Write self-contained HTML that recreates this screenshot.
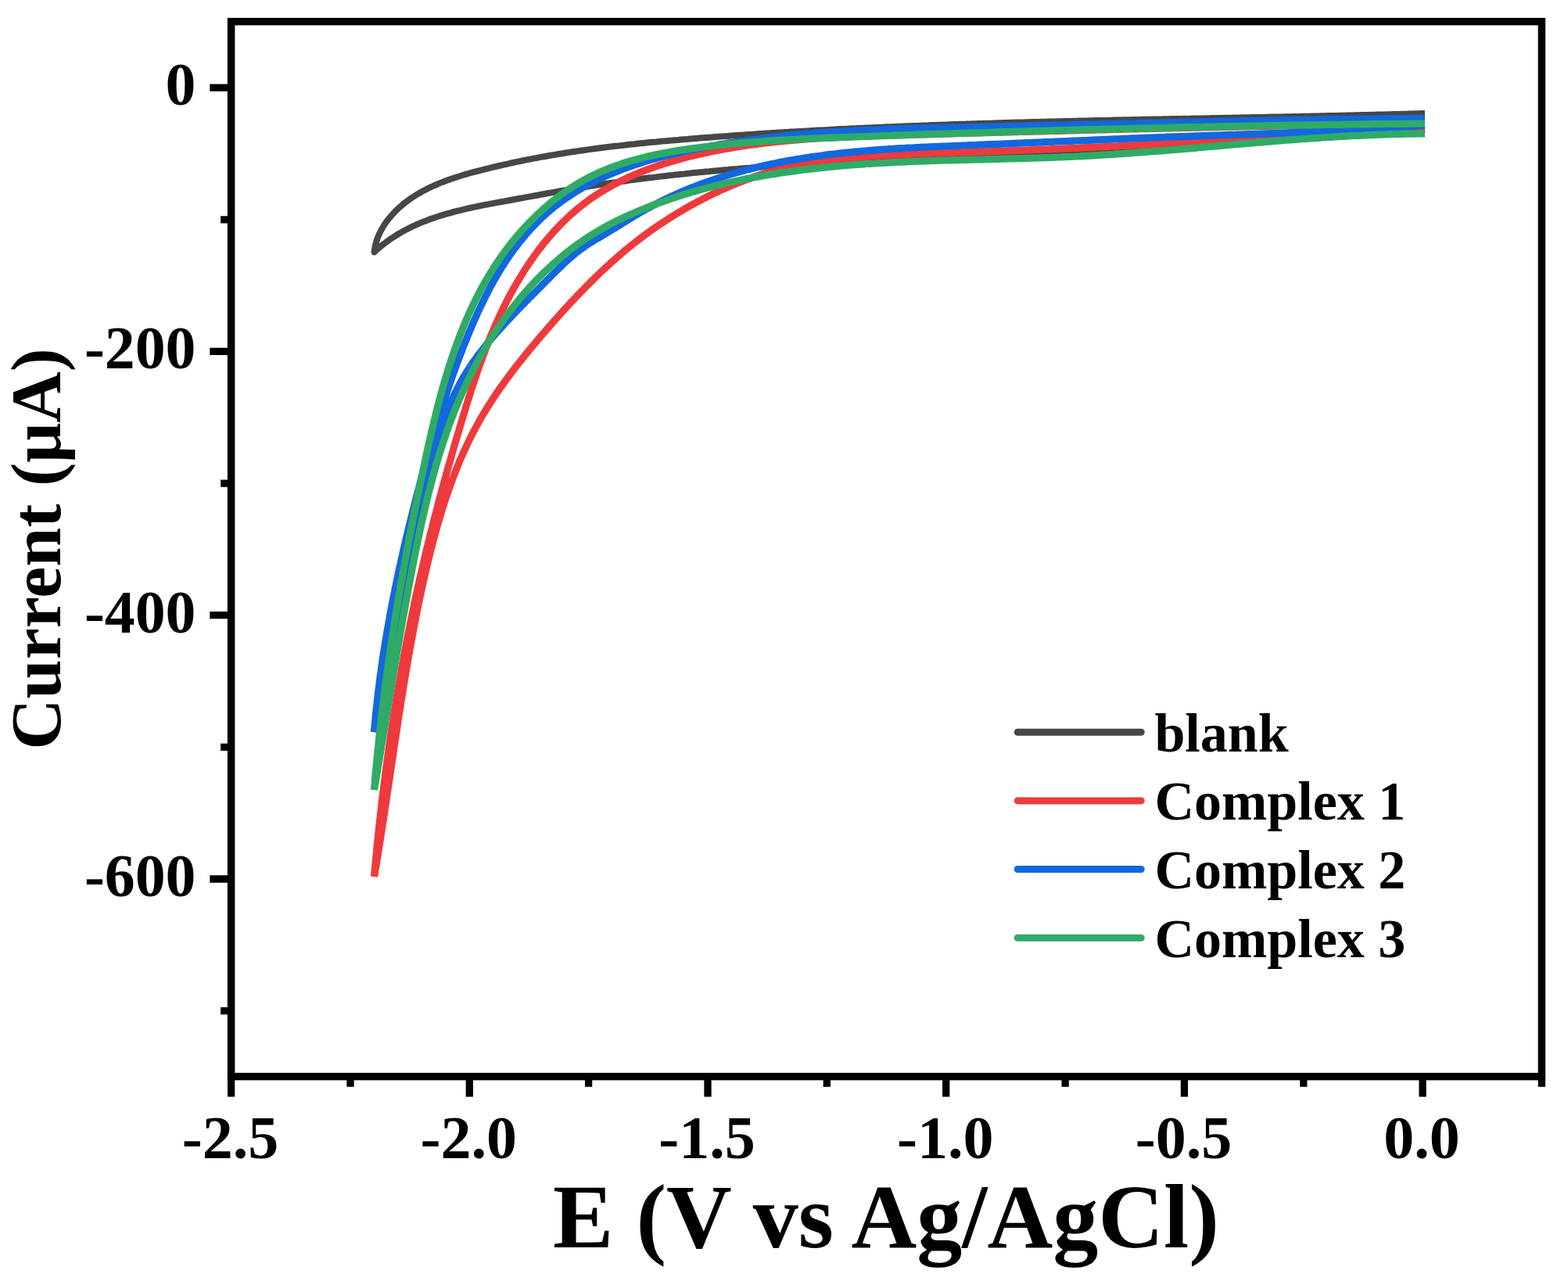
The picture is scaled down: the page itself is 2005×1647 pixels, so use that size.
<!DOCTYPE html>
<html><head><meta charset="utf-8"><title>CV plot</title>
<style>html,body{margin:0;padding:0;background:#fff;overflow:hidden}svg{display:block}</style>
</head><body>
<svg width="2005" height="1647" viewBox="0 0 2005 1647">
<rect width="2005" height="1647" fill="#fff"/>
<rect x="295.6" y="27.6" width="1675.8" height="1349.0" fill="none" stroke="#000" stroke-width="9.5"/>
<path d="M295.6 112.1H268.3 M295.6 449.4H268.3 M295.6 786.7H268.3 M295.6 1124.0H268.3 M295.6 280.8H282.1 M295.6 618.1H282.1 M295.6 955.4H282.1 M295.6 1292.7H282.1 M295.6 1376.6V1402.4 M600.3 1376.6V1402.4 M905.0 1376.6V1402.4 M1209.7 1376.6V1402.4 M1514.4 1376.6V1402.4 M1819.1 1376.6V1402.4 M448.0 1376.6V1389.8 M752.6 1376.6V1389.8 M1057.3 1376.6V1389.8 M1362.1 1376.6V1389.8 M1666.8 1376.6V1389.8 M1971.4 1376.6V1389.8" stroke="#000" stroke-width="9.3" fill="none"/>
<path d="M1822.0 145.0 L1818.0 145.1 L1814.0 145.2 L1810.0 145.3 L1806.0 145.5 L1802.0 145.6 L1798.0 145.7 L1794.0 145.8 L1790.0 145.9 L1785.9 146.0 L1781.9 146.1 L1777.9 146.2 L1773.9 146.3 L1769.9 146.4 L1765.9 146.5 L1761.9 146.6 L1757.9 146.7 L1753.9 146.8 L1749.9 146.9 L1745.9 147.0 L1741.8 147.1 L1737.8 147.2 L1733.8 147.3 L1729.8 147.4 L1725.8 147.5 L1721.8 147.6 L1717.8 147.7 L1713.8 147.8 L1709.8 147.9 L1705.7 148.0 L1701.7 148.0 L1697.7 148.1 L1693.7 148.2 L1689.7 148.3 L1685.7 148.4 L1681.7 148.5 L1677.6 148.6 L1673.6 148.7 L1669.6 148.7 L1665.6 148.8 L1661.6 148.9 L1657.6 149.0 L1653.5 149.1 L1649.5 149.2 L1645.5 149.2 L1641.5 149.3 L1637.5 149.4 L1633.5 149.5 L1629.4 149.6 L1625.4 149.6 L1621.4 149.7 L1617.4 149.8 L1613.4 149.9 L1609.3 150.0 L1605.3 150.0 L1601.3 150.1 L1597.3 150.2 L1593.3 150.3 L1589.3 150.3 L1585.2 150.4 L1581.2 150.5 L1577.2 150.6 L1573.2 150.7 L1569.2 150.7 L1565.1 150.8 L1561.1 150.9 L1557.1 151.0 L1553.1 151.0 L1549.1 151.1 L1545.0 151.2 L1541.0 151.3 L1537.0 151.4 L1533.0 151.4 L1528.9 151.5 L1524.9 151.6 L1520.9 151.7 L1516.9 151.7 L1512.9 151.8 L1508.8 151.9 L1504.8 152.0 L1500.8 152.0 L1496.8 152.1 L1492.8 152.2 L1488.7 152.3 L1484.7 152.4 L1480.7 152.4 L1476.7 152.5 L1472.6 152.6 L1468.6 152.7 L1464.6 152.8 L1460.6 152.8 L1456.6 152.9 L1452.5 153.0 L1448.5 153.1 L1444.5 153.2 L1440.5 153.3 L1436.4 153.3 L1432.4 153.4 L1428.4 153.5 L1424.4 153.6 L1420.3 153.7 L1416.3 153.8 L1412.3 153.9 L1408.3 153.9 L1404.3 154.0 L1400.2 154.1 L1396.2 154.2 L1392.2 154.3 L1388.2 154.4 L1384.1 154.5 L1380.1 154.6 L1376.1 154.7 L1372.1 154.8 L1368.1 154.9 L1364.0 155.0 L1360.0 155.1 L1356.0 155.2 L1352.0 155.3 L1347.9 155.4 L1343.9 155.5 L1339.9 155.6 L1335.9 155.7 L1331.9 155.8 L1327.8 155.9 L1323.8 156.0 L1319.8 156.1 L1315.8 156.2 L1311.7 156.3 L1307.7 156.4 L1303.7 156.5 L1299.7 156.6 L1295.7 156.7 L1291.6 156.8 L1287.6 157.0 L1283.6 157.1 L1279.6 157.2 L1275.6 157.3 L1271.5 157.4 L1267.5 157.6 L1263.5 157.7 L1259.5 157.8 L1255.5 157.9 L1251.4 158.0 L1247.4 158.2 L1243.4 158.3 L1239.4 158.4 L1235.4 158.6 L1231.3 158.7 L1227.3 158.8 L1223.3 159.0 L1219.3 159.1 L1215.3 159.2 L1211.2 159.4 L1207.2 159.5 L1203.2 159.7 L1199.2 159.8 L1195.2 160.0 L1191.2 160.1 L1187.1 160.3 L1183.1 160.4 L1179.1 160.6 L1175.1 160.7 L1171.1 160.9 L1167.1 161.0 L1163.0 161.2 L1159.0 161.3 L1155.0 161.5 L1151.0 161.7 L1147.0 161.8 L1143.0 162.0 L1139.0 162.2 L1134.9 162.3 L1130.9 162.5 L1126.9 162.7 L1122.9 162.9 L1118.9 163.0 L1114.9 163.2 L1110.9 163.4 L1106.8 163.6 L1102.8 163.8 L1098.8 164.0 L1094.8 164.2 L1090.8 164.3 L1086.8 164.5 L1082.8 164.7 L1078.8 164.9 L1074.8 165.1 L1070.8 165.3 L1066.7 165.5 L1062.7 165.7 L1058.7 166.0 L1054.7 166.2 L1050.7 166.4 L1046.7 166.6 L1042.7 166.8 L1038.7 167.0 L1034.7 167.3 L1030.7 167.5 L1026.7 167.7 L1022.7 167.9 L1018.7 168.2 L1014.7 168.4 L1010.7 168.6 L1006.6 168.9 L1002.6 169.1 L998.6 169.4 L994.6 169.6 L990.6 169.9 L986.6 170.1 L982.6 170.4 L978.6 170.6 L974.6 170.9 L970.6 171.1 L966.6 171.4 L962.6 171.7 L958.6 171.9 L954.6 172.2 L950.6 172.5 L946.6 172.7 L942.6 173.0 L938.6 173.3 L934.6 173.6 L930.6 173.9 L926.7 174.2 L922.7 174.5 L918.7 174.8 L914.7 175.1 L910.7 175.4 L906.7 175.7 L902.7 176.0 L898.7 176.3 L894.7 176.6 L890.7 176.9 L886.7 177.2 L882.7 177.5 L878.7 177.9 L874.7 178.2 L870.8 178.5 L866.8 178.9 L862.8 179.2 L858.8 179.6 L854.8 179.9 L850.8 180.3 L846.8 180.6 L842.8 181.0 L838.9 181.4 L834.9 181.7 L830.9 182.1 L826.9 182.5 L822.9 182.9 L818.9 183.3 L815.0 183.7 L811.0 184.2 L807.0 184.6 L803.0 185.0 L799.0 185.5 L795.0 185.9 L791.1 186.4 L787.1 186.8 L783.1 187.3 L779.1 187.8 L775.1 188.3 L771.2 188.8 L767.2 189.3 L763.2 189.8 L759.2 190.3 L755.2 190.9 L751.3 191.4 L747.3 192.0 L743.3 192.5 L739.3 193.1 L735.4 193.7 L731.4 194.3 L727.4 194.9 L723.4 195.5 L719.5 196.2 L715.5 196.8 L711.5 197.5 L707.5 198.1 L703.6 198.8 L699.6 199.5 L695.6 200.2 L691.6 200.9 L687.7 201.7 L683.7 202.4 L679.7 203.2 L675.7 203.9 L671.8 204.7 L667.8 205.5 L663.8 206.4 L659.9 207.2 L655.9 208.0 L651.9 208.9 L647.9 209.8 L644.0 210.6 L640.0 211.6 L636.0 212.5 L632.1 213.4 L628.1 214.4 L624.1 215.3 L620.1 216.3 L616.2 217.3 L612.2 218.3 L608.2 219.4 L604.3 220.4 L600.3 221.5 L596.4 222.6 L592.5 223.8 L588.6 225.0 L584.7 226.2 L580.8 227.5 L577.0 228.8 L573.2 230.1 L569.4 231.5 L565.6 232.9 L561.9 234.4 L558.2 236.0 L554.6 237.5 L551.0 239.2 L547.4 240.9 L543.9 242.7 L540.4 244.5 L537.0 246.5 L533.6 248.4 L530.3 250.5 L527.0 252.6 L523.8 254.8 L520.7 257.1 L517.6 259.5 L514.6 261.9 L511.6 264.5 L508.7 267.1 L505.9 269.8 L503.2 272.7 L500.6 275.6 L498.0 278.6 L495.5 281.7 L493.2 284.9 L490.9 288.3 L488.9 291.7 L486.9 295.2 L485.1 298.8 L483.5 302.5 L482.1 306.3 L480.9 310.2 L479.9 314.2 L479.1 318.3 L478.6 322.5 L481.6 319.7 L484.6 317.0 L487.7 314.4 L490.9 311.9 L494.1 309.4 L497.3 307.1 L500.6 304.8 L504.0 302.6 L507.4 300.5 L510.8 298.4 L514.2 296.4 L517.7 294.5 L521.2 292.7 L524.8 290.9 L528.4 289.2 L532.0 287.5 L535.7 285.9 L539.3 284.4 L543.0 282.9 L546.8 281.5 L550.5 280.1 L554.3 278.8 L558.1 277.5 L561.9 276.3 L565.7 275.1 L569.5 273.9 L573.3 272.8 L577.2 271.8 L581.1 270.7 L585.0 269.7 L588.9 268.8 L592.8 267.8 L596.7 266.9 L600.7 266.0 L604.6 265.2 L608.5 264.3 L612.5 263.5 L616.5 262.7 L620.4 261.9 L624.4 261.2 L628.4 260.4 L632.4 259.7 L636.3 258.9 L640.3 258.2 L644.3 257.5 L648.3 256.7 L652.3 256.0 L656.2 255.3 L660.2 254.5 L664.2 253.8 L668.1 253.1 L672.1 252.4 L676.1 251.6 L680.0 250.9 L684.0 250.2 L688.0 249.5 L691.9 248.7 L695.9 248.0 L699.8 247.3 L703.8 246.6 L707.8 245.9 L711.7 245.2 L715.7 244.5 L719.6 243.8 L723.6 243.1 L727.5 242.4 L731.5 241.8 L735.5 241.1 L739.4 240.4 L743.4 239.8 L747.4 239.1 L751.3 238.5 L755.3 237.9 L759.2 237.3 L763.2 236.6 L767.2 236.0 L771.2 235.4 L775.1 234.8 L779.1 234.3 L783.1 233.7 L787.0 233.1 L791.0 232.6 L795.0 232.0 L799.0 231.5 L802.9 230.9 L806.9 230.4 L810.9 229.9 L814.9 229.3 L818.9 228.8 L822.9 228.3 L826.8 227.8 L830.8 227.3 L834.8 226.9 L838.8 226.4 L842.8 225.9 L846.8 225.4 L850.8 225.0 L854.8 224.5 L858.7 224.1 L862.7 223.6 L866.7 223.2 L870.7 222.8 L874.7 222.4 L878.7 221.9 L882.7 221.5 L886.7 221.1 L890.7 220.7 L894.7 220.3 L898.7 219.9 L902.7 219.5 L906.7 219.2 L910.7 218.8 L914.7 218.4 L918.7 218.1 L922.7 217.7 L926.7 217.3 L930.7 217.0 L934.7 216.6 L938.7 216.3 L942.7 216.0 L946.7 215.6 L950.8 215.3 L954.8 215.0 L958.8 214.7 L962.8 214.3 L966.8 214.0 L970.8 213.7 L974.8 213.4 L978.8 213.1 L982.8 212.8 L986.8 212.5 L990.9 212.2 L994.9 212.0 L998.9 211.7 L1002.9 211.4 L1006.9 211.1 L1010.9 210.8 L1014.9 210.6 L1018.9 210.3 L1023.0 210.0 L1027.0 209.8 L1031.0 209.5 L1035.0 209.3 L1039.0 209.0 L1043.0 208.8 L1047.1 208.5 L1051.1 208.3 L1055.1 208.0 L1059.1 207.8 L1063.1 207.6 L1067.1 207.3 L1071.2 207.1 L1075.2 206.8 L1079.2 206.6 L1083.2 206.4 L1087.2 206.2 L1091.2 205.9 L1095.3 205.7 L1099.3 205.5 L1103.3 205.3 L1107.3 205.0 L1111.3 204.8 L1115.3 204.6 L1119.4 204.4 L1123.4 204.2 L1127.4 204.0 L1131.4 203.7 L1135.4 203.5 L1139.4 203.3 L1143.5 203.1 L1147.5 202.9 L1151.5 202.7 L1155.5 202.5 L1159.5 202.3 L1163.6 202.1 L1167.6 201.9 L1171.6 201.7 L1175.6 201.5 L1179.6 201.3 L1183.6 201.1 L1187.7 200.9 L1191.7 200.7 L1195.7 200.5 L1199.7 200.3 L1203.7 200.1 L1207.7 199.9 L1211.8 199.7 L1215.8 199.5 L1219.8 199.3 L1223.8 199.1 L1227.8 198.9 L1231.8 198.7 L1235.9 198.5 L1239.9 198.4 L1243.9 198.2 L1247.9 198.0 L1251.9 197.8 L1255.9 197.6 L1260.0 197.4 L1264.0 197.2 L1268.0 197.0 L1272.0 196.9 L1276.0 196.7 L1280.0 196.5 L1284.1 196.3 L1288.1 196.1 L1292.1 195.9 L1296.1 195.8 L1300.1 195.6 L1304.1 195.4 L1308.2 195.2 L1312.2 195.0 L1316.2 194.8 L1320.2 194.7 L1324.2 194.5 L1328.2 194.3 L1332.3 194.1 L1336.3 193.9 L1340.3 193.8 L1344.3 193.6 L1348.3 193.4 L1352.3 193.2 L1356.4 193.0 L1360.4 192.8 L1364.4 192.7 L1368.4 192.5 L1372.4 192.3 L1376.4 192.1 L1380.5 191.9 L1384.5 191.8 L1388.5 191.6 L1392.5 191.4 L1396.5 191.2 L1400.5 191.0 L1404.6 190.8 L1408.6 190.7 L1412.6 190.5 L1416.6 190.3 L1420.6 190.1 L1424.6 189.9 L1428.6 189.7 L1432.7 189.5 L1436.7 189.4 L1440.7 189.2 L1444.7 189.0 L1448.7 188.8 L1452.7 188.6 L1456.8 188.4 L1460.8 188.2 L1464.8 188.0 L1468.8 187.9 L1472.8 187.7 L1476.8 187.5 L1480.9 187.3 L1484.9 187.1 L1488.9 186.9 L1492.9 186.7 L1496.9 186.5 L1500.9 186.3 L1504.9 186.1 L1509.0 185.9 L1513.0 185.7 L1517.0 185.5 L1521.0 185.3 L1525.0 185.1 L1529.0 184.9 L1533.0 184.7 L1537.1 184.5 L1541.1 184.3 L1545.1 184.1 L1549.1 183.9 L1553.1 183.7 L1557.1 183.4 L1561.2 183.2 L1565.2 183.0 L1569.2 182.8 L1573.2 182.6 L1577.2 182.4 L1581.2 182.2 L1585.2 181.9 L1589.3 181.7 L1593.3 181.5 L1597.3 181.3 L1601.3 181.1 L1605.3 180.8 L1609.3 180.6 L1613.3 180.4 L1617.4 180.1 L1621.4 179.9 L1625.4 179.7 L1629.4 179.4 L1633.4 179.2 L1637.4 179.0 L1641.4 178.7 L1645.4 178.5 L1649.5 178.2 L1653.5 178.0 L1657.5 177.8 L1661.5 177.5 L1665.5 177.3 L1669.5 177.0 L1673.5 176.8 L1677.6 176.5 L1681.6 176.3 L1685.6 176.0 L1689.6 175.7 L1693.6 175.5 L1697.6 175.2 L1701.6 174.9 L1705.6 174.7 L1709.7 174.4 L1713.7 174.1 L1717.7 173.9 L1721.7 173.6 L1725.7 173.3 L1729.7 173.0 L1733.7 172.8 L1737.8 172.5 L1741.8 172.2 L1745.8 171.9 L1749.8 171.6 L1753.8 171.3 L1757.8 171.0 L1761.8 170.7 L1765.8 170.4 L1769.8 170.1 L1773.9 169.8 L1777.9 169.5 L1781.9 169.2 L1785.9 168.9 L1789.9 168.6 L1793.9 168.3 L1797.9 168.0 L1801.9 167.6 L1806.0 167.3 L1810.0 167.0 L1814.0 166.7 L1818.0 166.3 L1822.0 166.0" stroke="#474747" stroke-width="8.0" fill="none" stroke-linejoin="round" stroke-linecap="butt"/>
<path d="M1822.0 158.5 L1818.0 158.5 L1814.0 158.6 L1809.9 158.6 L1805.9 158.7 L1801.9 158.7 L1797.9 158.7 L1793.9 158.8 L1789.8 158.8 L1785.8 158.9 L1781.8 158.9 L1777.8 159.0 L1773.8 159.0 L1769.8 159.1 L1765.7 159.1 L1761.7 159.2 L1757.7 159.2 L1753.7 159.3 L1749.7 159.3 L1745.7 159.4 L1741.7 159.4 L1737.6 159.5 L1733.6 159.5 L1729.6 159.6 L1725.6 159.6 L1721.6 159.7 L1717.6 159.7 L1713.6 159.8 L1709.5 159.9 L1705.5 159.9 L1701.5 160.0 L1697.5 160.0 L1693.5 160.1 L1689.5 160.2 L1685.5 160.2 L1681.5 160.3 L1677.5 160.4 L1673.4 160.4 L1669.4 160.5 L1665.4 160.5 L1661.4 160.6 L1657.4 160.7 L1653.4 160.8 L1649.4 160.8 L1645.4 160.9 L1641.4 161.0 L1637.4 161.0 L1633.3 161.1 L1629.3 161.2 L1625.3 161.2 L1621.3 161.3 L1617.3 161.4 L1613.3 161.5 L1609.3 161.5 L1605.3 161.6 L1601.3 161.7 L1597.3 161.8 L1593.3 161.8 L1589.3 161.9 L1585.2 162.0 L1581.2 162.1 L1577.2 162.1 L1573.2 162.2 L1569.2 162.3 L1565.2 162.4 L1561.2 162.5 L1557.2 162.6 L1553.2 162.6 L1549.2 162.7 L1545.2 162.8 L1541.2 162.9 L1537.2 163.0 L1533.2 163.1 L1529.2 163.1 L1525.1 163.2 L1521.1 163.3 L1517.1 163.4 L1513.1 163.5 L1509.1 163.6 L1505.1 163.7 L1501.1 163.7 L1497.1 163.8 L1493.1 163.9 L1489.1 164.0 L1485.1 164.1 L1481.1 164.2 L1477.1 164.3 L1473.1 164.4 L1469.1 164.5 L1465.1 164.6 L1461.1 164.6 L1457.0 164.7 L1453.0 164.8 L1449.0 164.9 L1445.0 165.0 L1441.0 165.1 L1437.0 165.2 L1433.0 165.3 L1429.0 165.4 L1425.0 165.5 L1421.0 165.6 L1417.0 165.7 L1413.0 165.8 L1409.0 165.9 L1405.0 166.0 L1401.0 166.1 L1397.0 166.2 L1392.9 166.3 L1388.9 166.4 L1384.9 166.5 L1380.9 166.6 L1376.9 166.7 L1372.9 166.8 L1368.9 166.9 L1364.9 167.0 L1360.9 167.1 L1356.9 167.2 L1352.9 167.3 L1348.9 167.4 L1344.9 167.5 L1340.9 167.6 L1336.9 167.7 L1332.8 167.8 L1328.8 167.9 L1324.8 168.0 L1320.8 168.1 L1316.8 168.2 L1312.8 168.3 L1308.8 168.4 L1304.8 168.5 L1300.8 168.6 L1296.8 168.7 L1292.8 168.8 L1288.7 168.9 L1284.7 169.0 L1280.7 169.1 L1276.7 169.2 L1272.7 169.4 L1268.7 169.5 L1264.7 169.6 L1260.7 169.7 L1256.7 169.8 L1252.7 169.9 L1248.6 170.0 L1244.6 170.1 L1240.6 170.2 L1236.6 170.3 L1232.6 170.4 L1228.6 170.5 L1224.6 170.6 L1220.6 170.7 L1216.5 170.9 L1212.5 171.0 L1208.5 171.1 L1204.5 171.2 L1200.5 171.3 L1196.5 171.4 L1192.5 171.5 L1188.5 171.6 L1184.4 171.7 L1180.4 171.8 L1176.4 171.9 L1172.4 172.0 L1168.4 172.2 L1164.4 172.3 L1160.3 172.4 L1156.3 172.5 L1152.3 172.6 L1148.3 172.7 L1144.3 172.8 L1140.3 172.9 L1136.2 173.0 L1132.2 173.2 L1128.2 173.3 L1124.2 173.4 L1120.2 173.5 L1116.2 173.7 L1112.1 173.8 L1108.1 173.9 L1104.1 174.1 L1100.1 174.2 L1096.1 174.4 L1092.1 174.5 L1088.0 174.7 L1084.0 174.9 L1080.0 175.0 L1076.0 175.2 L1072.0 175.4 L1068.0 175.6 L1064.0 175.8 L1059.9 176.0 L1055.9 176.3 L1051.9 176.5 L1047.9 176.7 L1043.9 177.0 L1039.9 177.3 L1035.9 177.5 L1031.9 177.8 L1027.9 178.1 L1023.9 178.4 L1019.9 178.8 L1015.9 179.1 L1011.9 179.4 L1007.9 179.8 L1003.9 180.2 L999.9 180.6 L995.9 181.0 L991.9 181.4 L987.9 181.8 L983.9 182.3 L980.0 182.7 L976.0 183.2 L972.0 183.7 L968.0 184.2 L964.0 184.7 L960.0 185.3 L956.1 185.8 L952.1 186.4 L948.1 187.0 L944.2 187.6 L940.2 188.3 L936.2 188.9 L932.3 189.6 L928.3 190.3 L924.3 191.0 L920.4 191.8 L916.4 192.5 L912.5 193.3 L908.5 194.1 L904.6 195.0 L900.6 195.8 L896.7 196.7 L892.7 197.6 L888.8 198.5 L884.9 199.4 L880.9 200.4 L877.0 201.4 L873.1 202.4 L869.2 203.5 L865.3 204.6 L861.4 205.7 L857.5 206.8 L853.7 208.0 L849.8 209.2 L846.0 210.4 L842.2 211.7 L838.4 213.0 L834.6 214.3 L830.8 215.7 L827.0 217.1 L823.3 218.5 L819.5 220.0 L815.8 221.5 L812.1 223.0 L808.5 224.6 L804.8 226.2 L801.2 227.9 L797.6 229.6 L794.0 231.3 L790.5 233.1 L787.0 234.9 L783.5 236.8 L780.0 238.7 L776.5 240.7 L773.1 242.7 L769.7 244.7 L766.4 246.8 L763.1 248.9 L759.8 251.1 L756.5 253.3 L753.3 255.6 L750.1 257.9 L747.0 260.3 L743.8 262.7 L740.8 265.2 L737.7 267.7 L734.7 270.3 L731.7 272.9 L728.8 275.5 L725.9 278.2 L723.0 281.0 L720.1 283.7 L717.3 286.5 L714.5 289.4 L711.8 292.3 L709.1 295.2 L706.4 298.2 L703.8 301.2 L701.2 304.2 L698.6 307.3 L696.0 310.4 L693.5 313.5 L691.1 316.7 L688.6 319.9 L686.2 323.1 L683.8 326.4 L681.5 329.7 L679.1 333.0 L676.9 336.3 L674.6 339.7 L672.4 343.0 L670.2 346.4 L668.0 349.9 L665.9 353.3 L663.8 356.8 L661.7 360.3 L659.7 363.8 L657.6 367.3 L655.7 370.8 L653.7 374.4 L651.8 378.0 L649.9 381.5 L648.0 385.1 L646.2 388.7 L644.4 392.4 L642.6 396.0 L640.9 399.6 L639.1 403.3 L637.5 406.9 L635.8 410.6 L634.1 414.3 L632.5 418.0 L630.9 421.7 L629.4 425.4 L627.8 429.1 L626.3 432.8 L624.8 436.5 L623.3 440.3 L621.8 444.0 L620.4 447.8 L619.0 451.5 L617.6 455.3 L616.2 459.1 L614.8 462.8 L613.5 466.6 L612.1 470.4 L610.8 474.2 L609.5 478.0 L608.2 481.8 L606.9 485.6 L605.7 489.4 L604.4 493.2 L603.2 497.0 L601.9 500.9 L600.7 504.7 L599.5 508.5 L598.3 512.4 L597.1 516.2 L595.9 520.0 L594.8 523.9 L593.6 527.7 L592.4 531.5 L591.3 535.4 L590.1 539.2 L589.0 543.1 L587.8 546.9 L586.7 550.8 L585.5 554.6 L584.4 558.5 L583.3 562.3 L582.1 566.1 L581.0 570.0 L579.9 573.8 L578.8 577.7 L577.7 581.5 L576.6 585.4 L575.5 589.3 L574.4 593.1 L573.3 597.0 L572.2 600.8 L571.1 604.7 L570.1 608.5 L569.0 612.4 L567.9 616.3 L566.9 620.1 L565.8 624.0 L564.8 627.8 L563.7 631.7 L562.7 635.6 L561.6 639.4 L560.6 643.3 L559.6 647.2 L558.6 651.1 L557.6 654.9 L556.5 658.8 L555.5 662.7 L554.5 666.6 L553.6 670.4 L552.6 674.3 L551.6 678.2 L550.6 682.1 L549.6 686.0 L548.7 689.8 L547.7 693.7 L546.8 697.6 L545.8 701.5 L544.9 705.4 L544.0 709.3 L543.0 713.2 L542.1 717.1 L541.2 721.0 L540.3 724.9 L539.4 728.8 L538.5 732.7 L537.6 736.6 L536.7 740.5 L535.8 744.4 L535.0 748.3 L534.1 752.3 L533.2 756.2 L532.4 760.1 L531.5 764.0 L530.7 767.9 L529.8 771.8 L529.0 775.8 L528.2 779.7 L527.4 783.6 L526.6 787.5 L525.8 791.5 L525.0 795.4 L524.2 799.3 L523.4 803.3 L522.6 807.2 L521.8 811.1 L521.0 815.1 L520.3 819.0 L519.5 823.0 L518.8 826.9 L518.0 830.8 L517.3 834.8 L516.5 838.7 L515.8 842.7 L515.1 846.6 L514.4 850.6 L513.7 854.5 L513.0 858.5 L512.3 862.4 L511.6 866.4 L510.9 870.3 L510.2 874.3 L509.5 878.3 L508.8 882.2 L508.2 886.2 L507.5 890.1 L506.9 894.1 L506.2 898.1 L505.6 902.0 L504.9 906.0 L504.3 910.0 L503.7 913.9 L503.0 917.9 L502.4 921.9 L501.8 925.8 L501.2 929.8 L500.6 933.8 L500.0 937.7 L499.4 941.7 L498.9 945.7 L498.3 949.7 L497.7 953.6 L497.1 957.6 L496.6 961.6 L496.0 965.6 L495.5 969.5 L494.9 973.5 L494.4 977.5 L493.9 981.5 L493.3 985.5 L492.8 989.4 L492.3 993.4 L491.8 997.4 L491.3 1001.4 L490.8 1005.4 L490.3 1009.3 L489.8 1013.3 L489.3 1017.3 L488.8 1021.3 L488.3 1025.3 L487.9 1029.3 L487.4 1033.3 L487.0 1037.2 L486.5 1041.2 L486.1 1045.2 L485.6 1049.2 L485.2 1053.2 L484.7 1057.2 L484.3 1061.2 L483.9 1065.1 L483.5 1069.1 L483.1 1073.1 L482.6 1077.1 L482.2 1081.1 L481.8 1085.1 L481.5 1089.1 L481.1 1093.1 L480.7 1097.1 L480.3 1101.1 L479.9 1105.0 L479.6 1109.0 L479.2 1113.0 L478.9 1117.0 L478.5 1121.0 L479.2 1117.0 L479.8 1113.1 L480.5 1109.1 L481.2 1105.2 L481.8 1101.2 L482.5 1097.3 L483.1 1093.3 L483.7 1089.4 L484.4 1085.4 L485.0 1081.5 L485.6 1077.5 L486.3 1073.5 L486.9 1069.6 L487.5 1065.6 L488.1 1061.7 L488.7 1057.7 L489.3 1053.7 L490.0 1049.8 L490.6 1045.8 L491.2 1041.8 L491.8 1037.9 L492.4 1033.9 L493.0 1029.9 L493.6 1026.0 L494.1 1022.0 L494.7 1018.0 L495.3 1014.1 L495.9 1010.1 L496.5 1006.1 L497.1 1002.2 L497.7 998.2 L498.3 994.2 L498.9 990.3 L499.4 986.3 L500.0 982.3 L500.6 978.4 L501.2 974.4 L501.8 970.4 L502.4 966.5 L503.0 962.5 L503.5 958.5 L504.1 954.6 L504.7 950.6 L505.3 946.6 L505.9 942.7 L506.5 938.7 L507.1 934.7 L507.7 930.8 L508.3 926.8 L508.9 922.8 L509.5 918.9 L510.1 914.9 L510.7 911.0 L511.4 907.0 L512.0 903.0 L512.6 899.1 L513.2 895.1 L513.9 891.1 L514.5 887.2 L515.1 883.2 L515.8 879.3 L516.4 875.3 L517.1 871.3 L517.7 867.4 L518.4 863.4 L519.0 859.5 L519.7 855.5 L520.4 851.6 L521.0 847.6 L521.7 843.7 L522.4 839.7 L523.1 835.8 L523.8 831.8 L524.5 827.9 L525.2 823.9 L525.9 820.0 L526.7 816.0 L527.4 812.1 L528.1 808.2 L528.9 804.2 L529.6 800.3 L530.4 796.3 L531.2 792.4 L531.9 788.5 L532.7 784.5 L533.5 780.6 L534.3 776.7 L535.1 772.7 L535.9 768.8 L536.7 764.9 L537.6 761.0 L538.4 757.0 L539.3 753.1 L540.1 749.2 L541.0 745.3 L541.9 741.3 L542.8 737.4 L543.6 733.5 L544.6 729.6 L545.5 725.7 L546.4 721.8 L547.3 717.9 L548.3 714.0 L549.2 710.1 L550.2 706.2 L551.2 702.3 L552.2 698.4 L553.2 694.5 L554.2 690.6 L555.2 686.7 L556.3 682.8 L557.4 679.0 L558.4 675.1 L559.5 671.2 L560.6 667.4 L561.8 663.5 L562.9 659.7 L564.1 655.8 L565.2 652.0 L566.4 648.2 L567.7 644.4 L568.9 640.5 L570.1 636.7 L571.4 632.9 L572.7 629.2 L574.0 625.4 L575.4 621.6 L576.7 617.9 L578.1 614.1 L579.5 610.4 L580.9 606.6 L582.4 602.9 L583.9 599.2 L585.3 595.5 L586.9 591.8 L588.4 588.1 L590.0 584.5 L591.6 580.8 L593.2 577.2 L594.9 573.6 L596.6 570.0 L598.3 566.4 L600.0 562.8 L601.8 559.2 L603.6 555.6 L605.4 552.1 L607.3 548.6 L609.2 545.1 L611.1 541.6 L613.0 538.1 L615.0 534.6 L617.0 531.2 L619.1 527.8 L621.2 524.3 L623.3 520.9 L625.4 517.5 L627.6 514.2 L629.7 510.8 L631.9 507.5 L634.2 504.1 L636.4 500.8 L638.7 497.5 L641.0 494.2 L643.4 490.9 L645.7 487.7 L648.1 484.4 L650.5 481.2 L652.9 478.0 L655.3 474.7 L657.8 471.5 L660.2 468.3 L662.7 465.2 L665.2 462.0 L667.7 458.8 L670.3 455.7 L672.8 452.5 L675.3 449.4 L677.9 446.3 L680.5 443.2 L683.1 440.1 L685.7 437.0 L688.3 433.9 L690.9 430.8 L693.5 427.8 L696.2 424.7 L698.8 421.6 L701.5 418.6 L704.1 415.6 L706.8 412.5 L709.4 409.5 L712.1 406.5 L714.8 403.5 L717.5 400.5 L720.1 397.5 L722.8 394.6 L725.6 391.6 L728.3 388.7 L731.0 385.7 L733.7 382.8 L736.5 379.9 L739.2 377.0 L742.0 374.1 L744.8 371.2 L747.6 368.4 L750.4 365.5 L753.2 362.7 L756.0 359.9 L758.9 357.1 L761.7 354.3 L764.6 351.5 L767.5 348.7 L770.4 346.0 L773.3 343.3 L776.2 340.6 L779.2 337.9 L782.1 335.2 L785.1 332.5 L788.1 329.9 L791.1 327.3 L794.1 324.7 L797.2 322.1 L800.2 319.5 L803.3 317.0 L806.4 314.5 L809.5 312.0 L812.7 309.5 L815.8 307.1 L819.0 304.6 L822.2 302.2 L825.5 299.8 L828.7 297.5 L832.0 295.1 L835.2 292.8 L838.6 290.5 L841.9 288.2 L845.2 286.0 L848.6 283.8 L852.0 281.6 L855.4 279.4 L858.8 277.2 L862.2 275.1 L865.6 273.0 L869.1 270.9 L872.6 268.9 L876.1 266.8 L879.6 264.8 L883.1 262.8 L886.6 260.9 L890.2 259.0 L893.8 257.1 L897.3 255.2 L900.9 253.4 L904.5 251.5 L908.1 249.7 L911.8 248.0 L915.4 246.2 L919.1 244.5 L922.7 242.9 L926.4 241.2 L930.1 239.6 L933.8 238.0 L937.5 236.4 L941.2 234.9 L944.9 233.4 L948.7 232.0 L952.4 230.5 L956.2 229.1 L960.0 227.8 L963.7 226.4 L967.5 225.1 L971.3 223.9 L975.1 222.7 L979.0 221.5 L982.8 220.3 L986.6 219.2 L990.5 218.1 L994.3 217.1 L998.2 216.1 L1002.1 215.1 L1006.0 214.2 L1009.8 213.3 L1013.7 212.5 L1017.6 211.6 L1021.6 210.9 L1025.5 210.1 L1029.4 209.4 L1033.3 208.7 L1037.3 208.1 L1041.2 207.4 L1045.2 206.8 L1049.1 206.3 L1053.1 205.7 L1057.1 205.2 L1061.0 204.7 L1065.0 204.2 L1069.0 203.8 L1073.0 203.3 L1076.9 202.9 L1080.9 202.5 L1084.9 202.2 L1088.9 201.8 L1092.9 201.4 L1096.9 201.1 L1100.9 200.8 L1104.9 200.5 L1108.9 200.2 L1112.9 199.9 L1116.9 199.6 L1120.9 199.4 L1124.9 199.1 L1128.9 198.9 L1132.9 198.6 L1136.9 198.4 L1141.0 198.2 L1145.0 198.0 L1149.0 197.8 L1153.0 197.6 L1157.0 197.4 L1161.0 197.3 L1165.0 197.1 L1169.0 196.9 L1173.1 196.8 L1177.1 196.6 L1181.1 196.5 L1185.1 196.3 L1189.1 196.2 L1193.1 196.0 L1197.2 195.9 L1201.2 195.8 L1205.2 195.7 L1209.2 195.5 L1213.2 195.4 L1217.3 195.3 L1221.3 195.2 L1225.3 195.0 L1229.3 194.9 L1233.3 194.8 L1237.3 194.7 L1241.4 194.6 L1245.4 194.4 L1249.4 194.3 L1253.4 194.2 L1257.4 194.0 L1261.4 193.9 L1265.4 193.8 L1269.5 193.6 L1273.5 193.5 L1277.5 193.4 L1281.5 193.2 L1285.5 193.1 L1289.5 192.9 L1293.5 192.8 L1297.5 192.6 L1301.5 192.5 L1305.5 192.3 L1309.6 192.2 L1313.6 192.0 L1317.6 191.8 L1321.6 191.7 L1325.6 191.5 L1329.6 191.4 L1333.6 191.2 L1337.6 191.0 L1341.6 190.9 L1345.6 190.7 L1349.6 190.5 L1353.6 190.3 L1357.6 190.2 L1361.6 190.0 L1365.6 189.8 L1369.6 189.6 L1373.6 189.5 L1377.6 189.3 L1381.6 189.1 L1385.6 188.9 L1389.6 188.7 L1393.7 188.6 L1397.7 188.4 L1401.7 188.2 L1405.7 188.0 L1409.7 187.8 L1413.7 187.6 L1417.7 187.4 L1421.7 187.2 L1425.7 187.1 L1429.7 186.9 L1433.7 186.7 L1437.7 186.5 L1441.7 186.3 L1445.7 186.1 L1449.7 185.9 L1453.7 185.7 L1457.7 185.5 L1461.7 185.3 L1465.7 185.1 L1469.7 184.9 L1473.7 184.7 L1477.7 184.6 L1481.7 184.4 L1485.7 184.2 L1489.7 184.0 L1493.7 183.8 L1497.7 183.6 L1501.7 183.4 L1505.7 183.2 L1509.7 183.0 L1513.7 182.8 L1517.7 182.6 L1521.7 182.4 L1525.7 182.2 L1529.7 182.0 L1533.7 181.8 L1537.7 181.6 L1541.7 181.4 L1545.8 181.3 L1549.8 181.1 L1553.8 180.9 L1557.8 180.7 L1561.8 180.5 L1565.8 180.3 L1569.8 180.1 L1573.8 179.9 L1577.8 179.7 L1581.8 179.5 L1585.8 179.3 L1589.8 179.1 L1593.8 178.9 L1597.8 178.7 L1601.8 178.5 L1605.8 178.3 L1609.8 178.1 L1613.8 177.9 L1617.9 177.7 L1621.9 177.5 L1625.9 177.3 L1629.9 177.1 L1633.9 176.8 L1637.9 176.6 L1641.9 176.4 L1645.9 176.2 L1649.9 176.0 L1653.9 175.8 L1657.9 175.6 L1661.9 175.4 L1665.9 175.2 L1669.9 174.9 L1673.9 174.7 L1677.9 174.5 L1681.9 174.3 L1685.9 174.1 L1690.0 173.8 L1694.0 173.6 L1698.0 173.4 L1702.0 173.2 L1706.0 172.9 L1710.0 172.7 L1714.0 172.5 L1718.0 172.2 L1722.0 172.0 L1726.0 171.8 L1730.0 171.5 L1734.0 171.3 L1738.0 171.0 L1742.0 170.8 L1746.0 170.5 L1750.0 170.3 L1754.0 170.0 L1758.0 169.8 L1762.0 169.5 L1766.0 169.3 L1770.0 169.0 L1774.0 168.8 L1778.0 168.5 L1782.0 168.3 L1786.0 168.0 L1790.0 167.7 L1794.0 167.4 L1798.0 167.2 L1802.0 166.9 L1806.0 166.6 L1810.0 166.3 L1814.0 166.1 L1818.0 165.8 L1822.0 165.5" stroke="#ee3a3d" stroke-width="9.2" fill="none" stroke-linejoin="bevel" stroke-linecap="butt"/>
<path d="M1822.0 151.4 L1818.0 151.4 L1814.0 151.4 L1810.0 151.5 L1806.0 151.5 L1802.0 151.5 L1798.0 151.6 L1794.0 151.6 L1790.0 151.6 L1785.9 151.7 L1781.9 151.7 L1777.9 151.7 L1773.9 151.8 L1769.9 151.8 L1765.9 151.8 L1761.9 151.9 L1757.9 151.9 L1753.9 152.0 L1749.9 152.0 L1745.9 152.1 L1741.9 152.1 L1737.8 152.2 L1733.8 152.2 L1729.8 152.3 L1725.8 152.3 L1721.8 152.4 L1717.8 152.4 L1713.8 152.5 L1709.8 152.5 L1705.7 152.6 L1701.7 152.6 L1697.7 152.7 L1693.7 152.8 L1689.7 152.8 L1685.7 152.9 L1681.7 153.0 L1677.7 153.0 L1673.6 153.1 L1669.6 153.1 L1665.6 153.2 L1661.6 153.3 L1657.6 153.4 L1653.6 153.4 L1649.5 153.5 L1645.5 153.6 L1641.5 153.6 L1637.5 153.7 L1633.5 153.8 L1629.5 153.9 L1625.5 153.9 L1621.4 154.0 L1617.4 154.1 L1613.4 154.2 L1609.4 154.2 L1605.4 154.3 L1601.4 154.4 L1597.3 154.5 L1593.3 154.6 L1589.3 154.6 L1585.3 154.7 L1581.3 154.8 L1577.2 154.9 L1573.2 155.0 L1569.2 155.1 L1565.2 155.1 L1561.2 155.2 L1557.2 155.3 L1553.1 155.4 L1549.1 155.5 L1545.1 155.6 L1541.1 155.7 L1537.1 155.7 L1533.1 155.8 L1529.0 155.9 L1525.0 156.0 L1521.0 156.1 L1517.0 156.2 L1513.0 156.3 L1508.9 156.4 L1504.9 156.5 L1500.9 156.6 L1496.9 156.6 L1492.9 156.7 L1488.9 156.8 L1484.8 156.9 L1480.8 157.0 L1476.8 157.1 L1472.8 157.2 L1468.8 157.3 L1464.7 157.4 L1460.7 157.5 L1456.7 157.6 L1452.7 157.7 L1448.7 157.8 L1444.7 157.9 L1440.6 158.0 L1436.6 158.1 L1432.6 158.2 L1428.6 158.2 L1424.6 158.3 L1420.6 158.4 L1416.5 158.5 L1412.5 158.6 L1408.5 158.7 L1404.5 158.8 L1400.5 158.9 L1396.5 159.0 L1392.4 159.1 L1388.4 159.2 L1384.4 159.3 L1380.4 159.4 L1376.4 159.5 L1372.4 159.6 L1368.3 159.7 L1364.3 159.8 L1360.3 159.9 L1356.3 160.0 L1352.3 160.1 L1348.3 160.1 L1344.3 160.2 L1340.2 160.3 L1336.2 160.4 L1332.2 160.5 L1328.2 160.6 L1324.2 160.7 L1320.2 160.8 L1316.2 160.9 L1312.2 161.0 L1308.1 161.1 L1304.1 161.2 L1300.1 161.2 L1296.1 161.3 L1292.1 161.4 L1288.1 161.5 L1284.1 161.6 L1280.1 161.7 L1276.1 161.8 L1272.0 161.9 L1268.0 162.0 L1264.0 162.0 L1260.0 162.1 L1256.0 162.2 L1252.0 162.3 L1248.0 162.4 L1244.0 162.5 L1240.0 162.5 L1236.0 162.6 L1232.0 162.7 L1228.0 162.8 L1224.0 162.9 L1219.9 163.0 L1215.9 163.0 L1211.9 163.1 L1207.9 163.2 L1203.9 163.3 L1199.9 163.4 L1195.9 163.5 L1191.9 163.6 L1187.9 163.7 L1183.9 163.8 L1179.9 163.9 L1175.9 164.0 L1171.9 164.1 L1167.9 164.2 L1163.9 164.3 L1159.9 164.4 L1155.9 164.6 L1151.9 164.7 L1147.9 164.8 L1143.9 164.9 L1139.9 165.1 L1135.9 165.2 L1131.9 165.4 L1127.9 165.5 L1123.9 165.7 L1119.9 165.8 L1115.9 166.0 L1111.9 166.2 L1107.9 166.4 L1103.9 166.5 L1099.9 166.7 L1095.9 166.9 L1091.9 167.1 L1087.9 167.4 L1083.9 167.6 L1079.9 167.8 L1075.9 168.0 L1072.0 168.3 L1068.0 168.5 L1064.0 168.8 L1060.0 169.0 L1056.0 169.3 L1052.0 169.6 L1048.0 169.9 L1044.0 170.2 L1040.0 170.5 L1036.0 170.8 L1032.0 171.1 L1028.0 171.5 L1024.0 171.8 L1020.0 172.2 L1016.1 172.5 L1012.1 172.9 L1008.1 173.3 L1004.1 173.7 L1000.1 174.1 L996.1 174.5 L992.1 175.0 L988.1 175.4 L984.1 175.9 L980.1 176.3 L976.2 176.8 L972.2 177.3 L968.2 177.8 L964.2 178.3 L960.2 178.9 L956.2 179.4 L952.2 180.0 L948.2 180.5 L944.3 181.1 L940.3 181.7 L936.3 182.3 L932.3 182.9 L928.3 183.6 L924.3 184.2 L920.3 184.9 L916.4 185.6 L912.4 186.3 L908.4 187.0 L904.4 187.7 L900.4 188.5 L896.4 189.2 L892.5 190.0 L888.5 190.8 L884.5 191.6 L880.5 192.4 L876.5 193.3 L872.6 194.2 L868.6 195.1 L864.6 196.0 L860.7 196.9 L856.7 197.9 L852.8 198.8 L848.9 199.8 L845.0 200.9 L841.0 201.9 L837.1 203.0 L833.2 204.1 L829.4 205.2 L825.5 206.4 L821.6 207.6 L817.8 208.8 L814.0 210.0 L810.1 211.3 L806.3 212.6 L802.6 214.0 L798.8 215.3 L795.0 216.7 L791.3 218.2 L787.6 219.7 L783.9 221.2 L780.2 222.7 L776.6 224.3 L772.9 225.9 L769.3 227.6 L765.7 229.3 L762.1 231.0 L758.6 232.8 L755.1 234.6 L751.6 236.4 L748.1 238.3 L744.7 240.3 L741.2 242.3 L737.9 244.3 L734.5 246.4 L731.2 248.5 L727.9 250.7 L724.6 252.9 L721.3 255.1 L718.1 257.4 L715.0 259.8 L711.8 262.2 L708.7 264.6 L705.6 267.1 L702.6 269.7 L699.6 272.3 L696.6 275.0 L693.6 277.7 L690.7 280.4 L687.9 283.2 L685.1 286.1 L682.3 289.0 L679.5 291.9 L676.8 294.9 L674.1 297.9 L671.5 301.0 L668.9 304.1 L666.3 307.2 L663.8 310.4 L661.3 313.6 L658.8 316.8 L656.4 320.0 L654.1 323.3 L651.7 326.6 L649.4 330.0 L647.2 333.3 L645.0 336.7 L642.8 340.1 L640.6 343.5 L638.5 346.9 L636.5 350.4 L634.4 353.9 L632.4 357.4 L630.5 360.9 L628.5 364.4 L626.6 367.9 L624.7 371.5 L622.9 375.1 L621.0 378.7 L619.3 382.3 L617.5 385.9 L615.7 389.5 L614.0 393.1 L612.3 396.8 L610.6 400.4 L609.0 404.1 L607.3 407.8 L605.7 411.4 L604.1 415.1 L602.6 418.8 L601.0 422.5 L599.4 426.2 L597.9 429.9 L596.4 433.7 L594.9 437.4 L593.4 441.1 L591.9 444.8 L590.5 448.6 L589.1 452.3 L587.6 456.1 L586.2 459.8 L584.8 463.6 L583.4 467.3 L582.1 471.1 L580.7 474.9 L579.4 478.6 L578.0 482.4 L576.7 486.2 L575.4 490.0 L574.1 493.8 L572.8 497.6 L571.6 501.4 L570.3 505.2 L569.1 509.0 L567.8 512.8 L566.6 516.6 L565.4 520.4 L564.2 524.2 L563.0 528.1 L561.8 531.9 L560.6 535.7 L559.4 539.6 L558.3 543.4 L557.1 547.2 L556.0 551.1 L554.8 554.9 L553.7 558.8 L552.6 562.6 L551.5 566.5 L550.3 570.3 L549.2 574.2 L548.2 578.0 L547.1 581.9 L546.0 585.8 L544.9 589.6 L543.8 593.5 L542.8 597.4 L541.7 601.2 L540.7 605.1 L539.6 609.0 L538.6 612.9 L537.5 616.7 L536.5 620.6 L535.5 624.5 L534.4 628.4 L533.4 632.2 L532.4 636.1 L531.4 640.0 L530.4 643.9 L529.4 647.8 L528.4 651.7 L527.5 655.6 L526.5 659.5 L525.5 663.4 L524.5 667.3 L523.6 671.2 L522.6 675.1 L521.7 679.0 L520.8 682.9 L519.8 686.8 L518.9 690.7 L518.0 694.6 L517.1 698.5 L516.2 702.4 L515.3 706.3 L514.4 710.2 L513.5 714.1 L512.7 718.1 L511.8 722.0 L510.9 725.9 L510.1 729.8 L509.2 733.7 L508.4 737.7 L507.6 741.6 L506.8 745.5 L506.0 749.5 L505.1 753.4 L504.4 757.3 L503.6 761.3 L502.8 765.2 L502.0 769.1 L501.3 773.1 L500.5 777.0 L499.8 781.0 L499.0 784.9 L498.3 788.9 L497.6 792.8 L496.9 796.7 L496.2 800.7 L495.5 804.7 L494.8 808.6 L494.2 812.6 L493.5 816.5 L492.8 820.5 L492.2 824.4 L491.6 828.4 L490.9 832.4 L490.3 836.3 L489.7 840.3 L489.1 844.3 L488.6 848.2 L488.0 852.2 L487.4 856.2 L486.9 860.2 L486.3 864.1 L485.8 868.1 L485.3 872.1 L484.8 876.1 L484.3 880.1 L483.8 884.0 L483.3 888.0 L482.9 892.0 L482.4 896.0 L482.0 900.0 L481.5 904.0 L481.1 908.0 L480.7 912.0 L480.3 916.0 L479.9 920.0 L479.5 924.0 L479.2 928.0 L478.8 932.0 L478.5 936.0 L479.3 932.1 L480.1 928.1 L480.9 924.2 L481.8 920.2 L482.6 916.3 L483.4 912.4 L484.2 908.4 L485.0 904.5 L485.8 900.6 L486.6 896.6 L487.3 892.7 L488.1 888.7 L488.9 884.8 L489.7 880.9 L490.5 876.9 L491.3 873.0 L492.0 869.1 L492.8 865.1 L493.6 861.2 L494.4 857.3 L495.2 853.3 L495.9 849.4 L496.7 845.5 L497.5 841.5 L498.2 837.6 L499.0 833.6 L499.8 829.7 L500.6 825.8 L501.3 821.8 L502.1 817.9 L502.9 814.0 L503.7 810.0 L504.4 806.1 L505.2 802.2 L506.0 798.3 L506.7 794.3 L507.5 790.4 L508.3 786.5 L509.1 782.5 L509.9 778.6 L510.7 774.7 L511.4 770.7 L512.2 766.8 L513.0 762.9 L513.8 759.0 L514.6 755.0 L515.4 751.1 L516.2 747.2 L517.0 743.2 L517.8 739.3 L518.6 735.4 L519.4 731.5 L520.2 727.5 L521.1 723.6 L521.9 719.7 L522.7 715.8 L523.5 711.8 L524.4 707.9 L525.2 704.0 L526.0 700.1 L526.9 696.2 L527.7 692.2 L528.6 688.3 L529.4 684.4 L530.3 680.5 L531.2 676.6 L532.1 672.6 L532.9 668.7 L533.8 664.8 L534.7 660.9 L535.6 657.0 L536.5 653.1 L537.4 649.1 L538.3 645.2 L539.3 641.3 L540.2 637.4 L541.1 633.5 L542.1 629.6 L543.0 625.7 L544.0 621.8 L544.9 617.9 L545.9 613.9 L546.9 610.0 L547.9 606.1 L548.8 602.2 L549.8 598.3 L550.8 594.4 L551.9 590.5 L552.9 586.6 L553.9 582.7 L555.0 578.8 L556.1 574.9 L557.2 571.1 L558.3 567.2 L559.4 563.3 L560.6 559.5 L561.7 555.6 L562.9 551.8 L564.2 548.0 L565.4 544.1 L566.7 540.3 L568.0 536.6 L569.4 532.8 L570.8 529.0 L572.2 525.3 L573.7 521.6 L575.2 517.9 L576.7 514.2 L578.3 510.6 L580.0 506.9 L581.6 503.3 L583.4 499.7 L585.1 496.1 L587.0 492.6 L588.8 489.1 L590.8 485.6 L592.8 482.1 L594.8 478.7 L596.9 475.3 L599.1 471.9 L601.3 468.5 L603.5 465.2 L605.8 461.9 L608.2 458.6 L610.5 455.4 L613.0 452.2 L615.4 449.0 L617.9 445.8 L620.5 442.6 L623.0 439.5 L625.6 436.4 L628.2 433.3 L630.8 430.2 L633.5 427.2 L636.2 424.1 L638.9 421.1 L641.6 418.1 L644.3 415.2 L647.0 412.2 L649.7 409.3 L652.5 406.3 L655.2 403.4 L658.0 400.5 L660.8 397.6 L663.5 394.7 L666.3 391.8 L669.1 389.0 L671.9 386.1 L674.7 383.3 L677.5 380.4 L680.4 377.6 L683.2 374.7 L686.0 371.9 L688.8 369.0 L691.7 366.2 L694.5 363.3 L697.3 360.5 L700.2 357.6 L703.0 354.7 L705.9 351.9 L708.7 349.0 L711.6 346.2 L714.5 343.4 L717.4 340.6 L720.3 337.8 L723.2 335.0 L726.2 332.3 L729.2 329.7 L732.3 327.1 L735.3 324.5 L738.4 322.0 L741.6 319.6 L744.8 317.2 L748.0 314.9 L751.3 312.7 L754.7 310.5 L758.1 308.4 L761.5 306.4 L764.9 304.4 L768.4 302.4 L771.8 300.3 L775.3 298.3 L778.7 296.2 L782.1 294.1 L785.6 292.0 L789.0 289.9 L792.4 287.8 L795.8 285.6 L799.3 283.5 L802.7 281.4 L806.1 279.2 L809.6 277.1 L813.1 275.1 L816.5 273.0 L820.0 271.0 L823.5 269.0 L827.0 267.0 L830.6 265.1 L834.1 263.2 L837.7 261.3 L841.2 259.5 L844.8 257.7 L848.4 255.9 L852.0 254.1 L855.7 252.4 L859.3 250.7 L863.0 249.1 L866.6 247.4 L870.3 245.8 L874.0 244.3 L877.7 242.7 L881.4 241.2 L885.1 239.7 L888.9 238.3 L892.6 236.8 L896.4 235.4 L900.2 234.0 L903.9 232.7 L907.7 231.4 L911.5 230.1 L915.3 228.8 L919.1 227.5 L923.0 226.3 L926.8 225.1 L930.6 224.0 L934.5 222.8 L938.3 221.7 L942.2 220.6 L946.0 219.5 L949.9 218.5 L953.8 217.4 L957.7 216.4 L961.6 215.5 L965.5 214.5 L969.4 213.6 L973.3 212.7 L977.2 211.8 L981.1 210.9 L985.0 210.0 L989.0 209.2 L992.9 208.4 L996.8 207.6 L1000.8 206.9 L1004.7 206.1 L1008.7 205.4 L1012.6 204.7 L1016.6 204.0 L1020.5 203.3 L1024.5 202.7 L1028.4 202.1 L1032.4 201.5 L1036.4 200.9 L1040.3 200.3 L1044.3 199.7 L1048.3 199.2 L1052.2 198.7 L1056.2 198.1 L1060.2 197.6 L1064.2 197.2 L1068.2 196.7 L1072.1 196.2 L1076.1 195.8 L1080.1 195.4 L1084.1 195.0 L1088.1 194.6 L1092.1 194.2 L1096.1 193.8 L1100.1 193.5 L1104.1 193.1 L1108.1 192.8 L1112.1 192.4 L1116.1 192.1 L1120.1 191.8 L1124.1 191.5 L1128.1 191.2 L1132.1 191.0 L1136.1 190.7 L1140.2 190.4 L1144.2 190.2 L1148.2 189.9 L1152.2 189.7 L1156.2 189.5 L1160.2 189.2 L1164.2 189.0 L1168.3 188.8 L1172.3 188.6 L1176.3 188.4 L1180.3 188.2 L1184.3 188.0 L1188.4 187.8 L1192.4 187.7 L1196.4 187.5 L1200.4 187.3 L1204.4 187.1 L1208.5 187.0 L1212.5 186.8 L1216.5 186.7 L1220.5 186.5 L1224.5 186.3 L1228.6 186.2 L1232.6 186.0 L1236.6 185.9 L1240.6 185.7 L1244.6 185.5 L1248.7 185.4 L1252.7 185.2 L1256.7 185.1 L1260.7 184.9 L1264.7 184.7 L1268.7 184.6 L1272.8 184.4 L1276.8 184.3 L1280.8 184.1 L1284.8 183.9 L1288.8 183.8 L1292.8 183.6 L1296.8 183.4 L1300.8 183.2 L1304.9 183.1 L1308.9 182.9 L1312.9 182.7 L1316.9 182.6 L1320.9 182.4 L1324.9 182.2 L1328.9 182.1 L1332.9 181.9 L1336.9 181.7 L1340.9 181.5 L1345.0 181.4 L1349.0 181.2 L1353.0 181.0 L1357.0 180.8 L1361.0 180.7 L1365.0 180.5 L1369.0 180.3 L1373.0 180.1 L1377.0 180.0 L1381.0 179.8 L1385.0 179.6 L1389.0 179.5 L1393.0 179.3 L1397.0 179.1 L1401.0 178.9 L1405.0 178.8 L1409.0 178.6 L1413.1 178.4 L1417.1 178.3 L1421.1 178.1 L1425.1 177.9 L1429.1 177.8 L1433.1 177.6 L1437.1 177.4 L1441.1 177.3 L1445.1 177.1 L1449.1 176.9 L1453.1 176.8 L1457.1 176.6 L1461.1 176.4 L1465.1 176.3 L1469.1 176.1 L1473.1 176.0 L1477.2 175.8 L1481.2 175.7 L1485.2 175.5 L1489.2 175.4 L1493.2 175.2 L1497.2 175.1 L1501.2 174.9 L1505.2 174.8 L1509.2 174.6 L1513.2 174.5 L1517.2 174.3 L1521.3 174.2 L1525.3 174.1 L1529.3 173.9 L1533.3 173.8 L1537.3 173.6 L1541.3 173.5 L1545.3 173.4 L1549.3 173.2 L1553.3 173.1 L1557.4 173.0 L1561.4 172.8 L1565.4 172.7 L1569.4 172.6 L1573.4 172.4 L1577.4 172.3 L1581.4 172.2 L1585.5 172.0 L1589.5 171.9 L1593.5 171.8 L1597.5 171.6 L1601.5 171.5 L1605.5 171.3 L1609.5 171.2 L1613.6 171.1 L1617.6 170.9 L1621.6 170.8 L1625.6 170.6 L1629.6 170.5 L1633.6 170.3 L1637.6 170.2 L1641.6 170.0 L1645.7 169.9 L1649.7 169.7 L1653.7 169.6 L1657.7 169.4 L1661.7 169.3 L1665.7 169.1 L1669.7 168.9 L1673.8 168.8 L1677.8 168.6 L1681.8 168.4 L1685.8 168.2 L1689.8 168.1 L1693.8 167.9 L1697.8 167.7 L1701.8 167.5 L1705.8 167.3 L1709.9 167.1 L1713.9 166.9 L1717.9 166.7 L1721.9 166.5 L1725.9 166.3 L1729.9 166.1 L1733.9 165.9 L1737.9 165.7 L1741.9 165.4 L1745.9 165.2 L1750.0 165.0 L1754.0 164.8 L1758.0 164.5 L1762.0 164.3 L1766.0 164.0 L1770.0 163.8 L1774.0 163.5 L1778.0 163.2 L1782.0 163.0 L1786.0 162.7 L1790.0 162.4 L1794.0 162.1 L1798.0 161.8 L1802.0 161.6 L1806.0 161.3 L1810.0 161.0 L1814.0 160.6 L1818.0 160.3 L1822.0 160.0" stroke="#1268de" stroke-width="9.2" fill="none" stroke-linejoin="bevel" stroke-linecap="butt"/>
<path d="M1822.0 158.0 L1818.0 158.0 L1814.0 158.1 L1810.0 158.1 L1806.0 158.2 L1802.0 158.2 L1798.0 158.2 L1794.0 158.3 L1789.9 158.3 L1785.9 158.4 L1781.9 158.4 L1777.9 158.5 L1773.9 158.5 L1769.9 158.5 L1765.9 158.6 L1761.9 158.6 L1757.9 158.7 L1753.9 158.7 L1749.9 158.8 L1745.9 158.8 L1741.8 158.9 L1737.8 158.9 L1733.8 159.0 L1729.8 159.0 L1725.8 159.1 L1721.8 159.1 L1717.8 159.2 L1713.8 159.3 L1709.8 159.3 L1705.7 159.4 L1701.7 159.4 L1697.7 159.5 L1693.7 159.5 L1689.7 159.6 L1685.7 159.7 L1681.7 159.7 L1677.6 159.8 L1673.6 159.8 L1669.6 159.9 L1665.6 160.0 L1661.6 160.0 L1657.6 160.1 L1653.6 160.2 L1649.6 160.2 L1645.5 160.3 L1641.5 160.4 L1637.5 160.4 L1633.5 160.5 L1629.5 160.6 L1625.5 160.6 L1621.4 160.7 L1617.4 160.8 L1613.4 160.8 L1609.4 160.9 L1605.4 161.0 L1601.4 161.1 L1597.4 161.1 L1593.3 161.2 L1589.3 161.3 L1585.3 161.4 L1581.3 161.4 L1577.3 161.5 L1573.3 161.6 L1569.2 161.7 L1565.2 161.7 L1561.2 161.8 L1557.2 161.9 L1553.2 162.0 L1549.2 162.1 L1545.1 162.1 L1541.1 162.2 L1537.1 162.3 L1533.1 162.4 L1529.1 162.5 L1525.1 162.6 L1521.0 162.6 L1517.0 162.7 L1513.0 162.8 L1509.0 162.9 L1505.0 163.0 L1501.0 163.1 L1496.9 163.2 L1492.9 163.3 L1488.9 163.3 L1484.9 163.4 L1480.9 163.5 L1476.9 163.6 L1472.8 163.7 L1468.8 163.8 L1464.8 163.9 L1460.8 164.0 L1456.8 164.1 L1452.8 164.2 L1448.7 164.3 L1444.7 164.4 L1440.7 164.5 L1436.7 164.6 L1432.7 164.7 L1428.7 164.8 L1424.6 164.9 L1420.6 165.0 L1416.6 165.1 L1412.6 165.2 L1408.6 165.3 L1404.6 165.4 L1400.5 165.5 L1396.5 165.6 L1392.5 165.7 L1388.5 165.8 L1384.5 165.9 L1380.5 166.0 L1376.4 166.1 L1372.4 166.2 L1368.4 166.3 L1364.4 166.4 L1360.4 166.5 L1356.4 166.6 L1352.4 166.7 L1348.3 166.9 L1344.3 167.0 L1340.3 167.1 L1336.3 167.2 L1332.3 167.3 L1328.3 167.4 L1324.3 167.5 L1320.2 167.6 L1316.2 167.8 L1312.2 167.9 L1308.2 168.0 L1304.2 168.1 L1300.2 168.2 L1296.2 168.3 L1292.2 168.5 L1288.1 168.6 L1284.1 168.7 L1280.1 168.8 L1276.1 168.9 L1272.1 169.1 L1268.1 169.2 L1264.1 169.3 L1260.1 169.4 L1256.0 169.5 L1252.0 169.7 L1248.0 169.8 L1244.0 169.9 L1240.0 170.0 L1236.0 170.2 L1232.0 170.3 L1228.0 170.4 L1224.0 170.5 L1220.0 170.7 L1216.0 170.8 L1211.9 170.9 L1207.9 171.1 L1203.9 171.2 L1199.9 171.3 L1195.9 171.4 L1191.9 171.6 L1187.9 171.7 L1183.9 171.8 L1179.9 172.0 L1175.9 172.1 L1171.9 172.2 L1167.9 172.4 L1163.9 172.5 L1159.9 172.6 L1155.9 172.8 L1151.9 172.9 L1147.9 173.1 L1143.8 173.2 L1139.8 173.3 L1135.8 173.5 L1131.8 173.6 L1127.8 173.7 L1123.8 173.9 L1119.8 174.0 L1115.8 174.2 L1111.8 174.3 L1107.8 174.5 L1103.8 174.6 L1099.8 174.7 L1095.8 174.9 L1091.8 175.0 L1087.8 175.2 L1083.8 175.3 L1079.8 175.5 L1075.8 175.6 L1071.8 175.8 L1067.8 175.9 L1063.8 176.1 L1059.8 176.2 L1055.8 176.4 L1051.9 176.6 L1047.9 176.7 L1043.9 176.9 L1039.9 177.1 L1035.9 177.3 L1031.9 177.5 L1027.9 177.7 L1023.9 177.9 L1019.9 178.1 L1015.9 178.3 L1011.9 178.5 L1007.9 178.7 L1003.9 178.9 L999.9 179.2 L995.9 179.4 L991.9 179.6 L987.9 179.9 L983.9 180.2 L979.9 180.4 L975.9 180.7 L971.9 181.0 L967.9 181.3 L963.9 181.6 L959.9 181.9 L955.9 182.2 L951.9 182.6 L947.8 182.9 L943.8 183.3 L939.8 183.7 L935.8 184.0 L931.8 184.4 L927.8 184.8 L923.8 185.2 L919.8 185.7 L915.8 186.1 L911.8 186.5 L907.8 187.0 L903.7 187.5 L899.7 188.0 L895.7 188.5 L891.7 189.0 L887.7 189.5 L883.7 190.1 L879.7 190.6 L875.6 191.2 L871.6 191.8 L867.6 192.4 L863.6 193.1 L859.6 193.8 L855.7 194.5 L851.7 195.2 L847.7 195.9 L843.7 196.7 L839.8 197.5 L835.8 198.4 L831.9 199.2 L828.0 200.1 L824.1 201.1 L820.2 202.1 L816.3 203.1 L812.4 204.1 L808.6 205.2 L804.7 206.3 L800.9 207.5 L797.1 208.7 L793.3 210.0 L789.5 211.3 L785.8 212.6 L782.0 214.0 L778.3 215.4 L774.6 216.9 L770.9 218.4 L767.3 220.0 L763.7 221.7 L760.0 223.4 L756.5 225.1 L752.9 226.9 L749.4 228.8 L745.9 230.7 L742.4 232.6 L739.0 234.7 L735.5 236.8 L732.1 238.9 L728.8 241.1 L725.4 243.3 L722.1 245.6 L718.8 247.9 L715.6 250.3 L712.4 252.7 L709.2 255.2 L706.0 257.7 L702.9 260.3 L699.8 262.9 L696.7 265.6 L693.7 268.2 L690.7 271.0 L687.8 273.7 L684.8 276.5 L681.9 279.4 L679.1 282.2 L676.2 285.1 L673.4 288.1 L670.7 291.0 L668.0 294.0 L665.3 297.1 L662.6 300.1 L660.0 303.2 L657.4 306.3 L654.9 309.4 L652.4 312.6 L649.9 315.8 L647.5 319.0 L645.1 322.2 L642.8 325.4 L640.4 328.7 L638.2 332.0 L635.9 335.3 L633.7 338.6 L631.5 341.9 L629.4 345.3 L627.3 348.7 L625.2 352.1 L623.2 355.5 L621.2 358.9 L619.2 362.4 L617.3 365.8 L615.4 369.3 L613.5 372.8 L611.7 376.3 L609.9 379.9 L608.1 383.4 L606.3 387.0 L604.6 390.5 L602.9 394.1 L601.2 397.8 L599.6 401.4 L598.0 405.0 L596.4 408.7 L594.8 412.3 L593.3 416.0 L591.8 419.7 L590.3 423.4 L588.8 427.1 L587.4 430.8 L586.0 434.6 L584.6 438.3 L583.2 442.1 L581.9 445.9 L580.5 449.6 L579.2 453.4 L577.9 457.2 L576.7 461.0 L575.4 464.9 L574.2 468.7 L573.0 472.5 L571.8 476.4 L570.7 480.2 L569.5 484.1 L568.4 488.0 L567.2 491.8 L566.1 495.7 L565.1 499.6 L564.0 503.5 L562.9 507.4 L561.9 511.3 L560.9 515.2 L559.8 519.1 L558.8 523.1 L557.8 527.0 L556.9 530.9 L555.9 534.9 L554.9 538.8 L554.0 542.7 L553.1 546.7 L552.1 550.6 L551.2 554.6 L550.3 558.5 L549.4 562.5 L548.5 566.4 L547.6 570.4 L546.8 574.4 L545.9 578.3 L545.0 582.3 L544.2 586.2 L543.3 590.2 L542.5 594.1 L541.6 598.1 L540.8 602.1 L540.0 606.0 L539.1 610.0 L538.3 613.9 L537.5 617.9 L536.7 621.8 L535.8 625.8 L535.0 629.7 L534.2 633.6 L533.4 637.6 L532.6 641.5 L531.8 645.5 L531.0 649.4 L530.2 653.4 L529.4 657.3 L528.7 661.2 L527.9 665.2 L527.1 669.1 L526.3 673.0 L525.6 677.0 L524.8 680.9 L524.0 684.9 L523.3 688.8 L522.5 692.7 L521.8 696.7 L521.1 700.6 L520.3 704.5 L519.6 708.5 L518.9 712.4 L518.1 716.3 L517.4 720.2 L516.7 724.2 L516.0 728.1 L515.3 732.0 L514.6 736.0 L513.9 739.9 L513.2 743.8 L512.5 747.8 L511.8 751.7 L511.1 755.6 L510.5 759.6 L509.8 763.5 L509.1 767.4 L508.5 771.4 L507.8 775.3 L507.2 779.3 L506.5 783.2 L505.9 787.1 L505.2 791.1 L504.6 795.0 L504.0 798.9 L503.4 802.9 L502.7 806.8 L502.1 810.8 L501.5 814.7 L500.9 818.7 L500.3 822.6 L499.7 826.5 L499.1 830.5 L498.6 834.4 L498.0 838.4 L497.4 842.3 L496.9 846.3 L496.3 850.2 L495.7 854.2 L495.2 858.2 L494.6 862.1 L494.1 866.1 L493.6 870.0 L493.0 874.0 L492.5 878.0 L492.0 881.9 L491.5 885.9 L491.0 889.9 L490.5 893.8 L490.0 897.8 L489.5 901.8 L489.0 905.8 L488.5 909.7 L488.1 913.7 L487.6 917.7 L487.1 921.7 L486.7 925.7 L486.2 929.7 L485.8 933.7 L485.3 937.7 L484.9 941.7 L484.5 945.7 L484.1 949.7 L483.7 953.7 L483.2 957.7 L482.8 961.7 L482.4 965.7 L482.1 969.7 L481.7 973.7 L481.3 977.7 L480.9 981.8 L480.6 985.8 L480.2 989.8 L479.8 993.8 L479.5 997.9 L479.2 1001.9 L478.8 1006.0 L478.5 1010.0 L479.2 1006.0 L479.8 1002.1 L480.5 998.1 L481.2 994.1 L481.8 990.1 L482.5 986.2 L483.1 982.2 L483.8 978.2 L484.5 974.3 L485.1 970.3 L485.8 966.3 L486.4 962.4 L487.1 958.4 L487.7 954.4 L488.4 950.5 L489.0 946.5 L489.7 942.5 L490.3 938.6 L491.0 934.6 L491.6 930.7 L492.3 926.7 L492.9 922.7 L493.6 918.8 L494.2 914.8 L494.9 910.9 L495.5 906.9 L496.2 902.9 L496.8 899.0 L497.5 895.0 L498.1 891.1 L498.8 887.1 L499.5 883.2 L500.1 879.2 L500.8 875.3 L501.4 871.3 L502.1 867.3 L502.8 863.4 L503.4 859.4 L504.1 855.5 L504.8 851.5 L505.4 847.6 L506.1 843.6 L506.8 839.7 L507.4 835.7 L508.1 831.8 L508.8 827.8 L509.5 823.9 L510.2 819.9 L510.8 816.0 L511.5 812.0 L512.2 808.1 L512.9 804.1 L513.6 800.2 L514.3 796.2 L515.0 792.3 L515.7 788.3 L516.4 784.4 L517.1 780.4 L517.9 776.5 L518.6 772.5 L519.3 768.6 L520.0 764.6 L520.8 760.7 L521.5 756.8 L522.2 752.8 L523.0 748.9 L523.7 744.9 L524.5 741.0 L525.2 737.0 L526.0 733.1 L526.7 729.1 L527.5 725.2 L528.3 721.2 L529.0 717.3 L529.8 713.3 L530.6 709.4 L531.4 705.4 L532.2 701.5 L533.0 697.5 L533.8 693.6 L534.6 689.6 L535.5 685.7 L536.3 681.8 L537.1 677.8 L538.0 673.9 L538.8 669.9 L539.7 666.0 L540.6 662.1 L541.5 658.1 L542.4 654.2 L543.3 650.3 L544.2 646.4 L545.2 642.5 L546.1 638.5 L547.1 634.6 L548.0 630.7 L549.0 626.8 L550.0 622.9 L551.0 619.0 L552.1 615.1 L553.1 611.3 L554.2 607.4 L555.2 603.5 L556.3 599.6 L557.4 595.8 L558.5 591.9 L559.7 588.0 L560.8 584.2 L562.0 580.4 L563.2 576.5 L564.4 572.7 L565.7 568.9 L566.9 565.1 L568.2 561.2 L569.5 557.4 L570.8 553.6 L572.1 549.9 L573.5 546.1 L574.8 542.3 L576.2 538.5 L577.6 534.8 L579.1 531.0 L580.5 527.3 L582.0 523.6 L583.5 519.8 L585.1 516.1 L586.6 512.4 L588.2 508.7 L589.8 505.1 L591.4 501.4 L593.1 497.7 L594.8 494.1 L596.5 490.5 L598.2 486.8 L599.9 483.2 L601.7 479.6 L603.5 476.0 L605.3 472.5 L607.2 468.9 L609.0 465.4 L610.9 461.8 L612.9 458.3 L614.8 454.8 L616.8 451.3 L618.8 447.9 L620.8 444.4 L622.9 441.0 L624.9 437.6 L627.0 434.2 L629.2 430.8 L631.3 427.4 L633.5 424.1 L635.7 420.7 L638.0 417.4 L640.2 414.1 L642.5 410.8 L644.8 407.6 L647.2 404.3 L649.6 401.1 L652.0 397.9 L654.4 394.7 L656.9 391.6 L659.4 388.4 L661.9 385.3 L664.4 382.2 L667.0 379.1 L669.6 376.1 L672.3 373.0 L674.9 370.0 L677.6 367.0 L680.3 364.1 L683.1 361.1 L685.9 358.2 L688.7 355.3 L691.5 352.5 L694.4 349.6 L697.3 346.8 L700.3 344.0 L703.2 341.3 L706.2 338.5 L709.2 335.8 L712.3 333.2 L715.4 330.5 L718.5 327.9 L721.6 325.4 L724.7 322.8 L727.9 320.3 L731.1 317.9 L734.4 315.4 L737.6 313.1 L740.9 310.7 L744.2 308.4 L747.5 306.1 L750.9 303.9 L754.3 301.7 L757.7 299.6 L761.1 297.5 L764.6 295.4 L768.0 293.4 L771.5 291.4 L775.0 289.5 L778.6 287.6 L782.1 285.7 L785.7 283.9 L789.3 282.1 L792.9 280.3 L796.5 278.6 L800.1 276.9 L803.8 275.3 L807.4 273.7 L811.1 272.1 L814.8 270.5 L818.5 268.9 L822.2 267.4 L825.9 265.9 L829.6 264.4 L833.3 263.0 L837.1 261.6 L840.8 260.2 L844.6 258.8 L848.4 257.5 L852.1 256.1 L855.9 254.8 L859.7 253.5 L863.5 252.3 L867.3 251.0 L871.1 249.8 L874.9 248.6 L878.7 247.5 L882.6 246.3 L886.4 245.2 L890.3 244.1 L894.1 243.0 L898.0 241.9 L901.8 240.9 L905.7 239.9 L909.6 238.9 L913.5 237.9 L917.4 236.9 L921.3 236.0 L925.2 235.1 L929.1 234.1 L933.0 233.3 L936.9 232.4 L940.8 231.5 L944.8 230.7 L948.7 229.9 L952.6 229.1 L956.6 228.3 L960.5 227.6 L964.5 226.8 L968.4 226.1 L972.4 225.4 L976.3 224.7 L980.3 224.0 L984.3 223.3 L988.3 222.7 L992.2 222.1 L996.2 221.4 L1000.2 220.8 L1004.2 220.2 L1008.2 219.7 L1012.2 219.1 L1016.2 218.6 L1020.2 218.0 L1024.2 217.5 L1028.2 217.0 L1032.2 216.5 L1036.2 216.1 L1040.2 215.6 L1044.2 215.2 L1048.2 214.7 L1052.2 214.3 L1056.2 213.9 L1060.3 213.5 L1064.3 213.1 L1068.3 212.7 L1072.3 212.4 L1076.3 212.0 L1080.3 211.7 L1084.4 211.3 L1088.4 211.0 L1092.4 210.7 L1096.4 210.4 L1100.4 210.1 L1104.5 209.8 L1108.5 209.5 L1112.5 209.3 L1116.5 209.0 L1120.5 208.8 L1124.5 208.5 L1128.6 208.3 L1132.6 208.1 L1136.6 207.9 L1140.6 207.6 L1144.6 207.4 L1148.6 207.2 L1152.7 207.1 L1156.7 206.9 L1160.7 206.7 L1164.7 206.5 L1168.7 206.4 L1172.7 206.2 L1176.7 206.1 L1180.7 205.9 L1184.8 205.8 L1188.8 205.6 L1192.8 205.5 L1196.8 205.4 L1200.8 205.2 L1204.8 205.1 L1208.8 205.0 L1212.8 204.9 L1216.9 204.8 L1220.9 204.7 L1224.9 204.6 L1228.9 204.5 L1232.9 204.4 L1236.9 204.3 L1240.9 204.2 L1244.9 204.1 L1248.9 204.0 L1252.9 203.9 L1256.9 203.8 L1261.0 203.7 L1265.0 203.6 L1269.0 203.5 L1273.0 203.4 L1277.0 203.3 L1281.0 203.2 L1285.0 203.1 L1289.0 203.0 L1293.0 202.9 L1297.0 202.8 L1301.0 202.7 L1305.0 202.6 L1309.0 202.5 L1313.1 202.3 L1317.1 202.2 L1321.1 202.1 L1325.1 202.0 L1329.1 201.9 L1333.1 201.7 L1337.1 201.6 L1341.1 201.5 L1345.1 201.3 L1349.1 201.2 L1353.1 201.0 L1357.1 200.9 L1361.1 200.7 L1365.1 200.5 L1369.1 200.3 L1373.1 200.2 L1377.1 200.0 L1381.2 199.8 L1385.2 199.6 L1389.2 199.4 L1393.2 199.2 L1397.2 198.9 L1401.2 198.7 L1405.2 198.5 L1409.2 198.2 L1413.2 198.0 L1417.2 197.7 L1421.2 197.5 L1425.2 197.2 L1429.2 196.9 L1433.2 196.7 L1437.2 196.4 L1441.2 196.1 L1445.2 195.8 L1449.2 195.5 L1453.3 195.2 L1457.3 194.9 L1461.3 194.6 L1465.3 194.3 L1469.3 194.0 L1473.3 193.7 L1477.3 193.4 L1481.3 193.1 L1485.3 192.8 L1489.3 192.4 L1493.3 192.1 L1497.3 191.8 L1501.3 191.4 L1505.3 191.1 L1509.3 190.8 L1513.3 190.4 L1517.3 190.1 L1521.3 189.8 L1525.4 189.4 L1529.4 189.1 L1533.4 188.7 L1537.4 188.4 L1541.4 188.0 L1545.4 187.7 L1549.4 187.3 L1553.4 187.0 L1557.4 186.6 L1561.4 186.3 L1565.4 185.9 L1569.4 185.6 L1573.4 185.2 L1577.4 184.9 L1581.4 184.5 L1585.4 184.2 L1589.5 183.8 L1593.5 183.5 L1597.5 183.2 L1601.5 182.8 L1605.5 182.5 L1609.5 182.1 L1613.5 181.8 L1617.5 181.5 L1621.5 181.1 L1625.5 180.8 L1629.5 180.5 L1633.5 180.2 L1637.5 179.8 L1641.5 179.5 L1645.6 179.2 L1649.6 178.9 L1653.6 178.6 L1657.6 178.3 L1661.6 178.0 L1665.6 177.7 L1669.6 177.4 L1673.6 177.1 L1677.6 176.8 L1681.6 176.6 L1685.6 176.3 L1689.6 176.0 L1693.7 175.8 L1697.7 175.5 L1701.7 175.3 L1705.7 175.0 L1709.7 174.8 L1713.7 174.5 L1717.7 174.3 L1721.7 174.1 L1725.7 173.9 L1729.7 173.7 L1733.7 173.5 L1737.8 173.3 L1741.8 173.1 L1745.8 172.9 L1749.8 172.7 L1753.8 172.6 L1757.8 172.4 L1761.8 172.2 L1765.8 172.1 L1769.8 172.0 L1773.9 171.8 L1777.9 171.7 L1781.9 171.6 L1785.9 171.5 L1789.9 171.4 L1793.9 171.3 L1797.9 171.2 L1801.9 171.2 L1805.9 171.1 L1810.0 171.1 L1814.0 171.0 L1818.0 171.0 L1822.0 171.0" stroke="#2fab66" stroke-width="9.2" fill="none" stroke-linejoin="bevel" stroke-linecap="butt"/>
<path d="M1301.2 936.2H1459.2" stroke="#474747" stroke-width="9.0" stroke-linecap="round"/>
<path d="M1301.2 1023.9H1459.2" stroke="#ee3a3d" stroke-width="9.0" stroke-linecap="round"/>
<path d="M1301.2 1111.5H1459.2" stroke="#1268de" stroke-width="9.0" stroke-linecap="round"/>
<path d="M1301.2 1199.2H1459.2" stroke="#2fab66" stroke-width="9.0" stroke-linecap="round"/>
<g font-family="'Liberation Serif', serif" font-weight="bold" fill="#000">
<text x="250.5" y="133.9" text-anchor="end" font-size="77.8">0</text>
<text x="250.5" y="471.2" text-anchor="end" font-size="77.8">-200</text>
<text x="250.5" y="808.5" text-anchor="end" font-size="77.8">-400</text>
<text x="250.5" y="1145.8" text-anchor="end" font-size="77.8">-600</text>
<text x="294.6" y="1481" text-anchor="middle" font-size="78">-2.5</text>
<text x="599.3" y="1481" text-anchor="middle" font-size="78">-2.0</text>
<text x="904.0" y="1481" text-anchor="middle" font-size="78">-1.5</text>
<text x="1208.7" y="1481" text-anchor="middle" font-size="78">-1.0</text>
<text x="1513.4" y="1481" text-anchor="middle" font-size="78">-0.5</text>
<text x="1818.1" y="1481" text-anchor="middle" font-size="78">0.0</text>
<text x="1476.4" y="960.6" font-size="70">blank</text>
<text x="1476.4" y="1048.3" font-size="70">Complex 1</text>
<text x="1476.4" y="1135.9" font-size="70">Complex 2</text>
<text x="1476.4" y="1223.6" font-size="70">Complex 3</text>
<text x="1133" y="1595.2" text-anchor="middle" font-size="116">E (V vs Ag/AgCl)</text>
<text transform="translate(76.5 702) rotate(-90)" x="0" y="0" text-anchor="middle" font-size="90.3">Current (μA)</text>
</g>
</svg>
</body></html>
